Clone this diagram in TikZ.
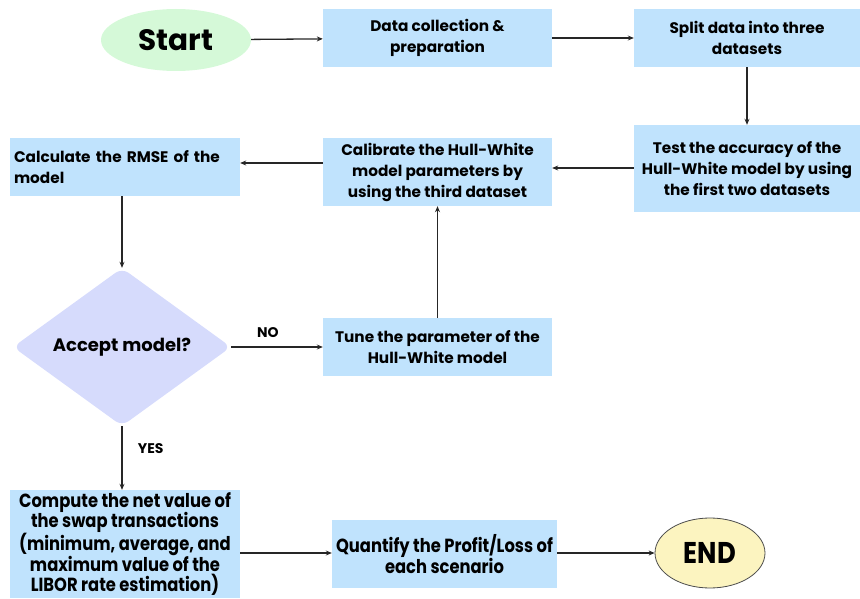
\documentclass[tikz,border=0pt]{standalone}
\usepackage{fontspec}
\setmainfont{Poppins}
\newfontfamily\narrowfont{Poppins}[FakeStretch=0.86]
\usetikzlibrary{shapes.geometric,arrows.meta}
\definecolor{boxblue}{RGB}{192,227,253}
\definecolor{startgreen}{RGB}{213,249,216}
\definecolor{decide}{RGB}{214,219,252}
\definecolor{endyellow}{RGB}{252,244,192}
\tikzset{
  stepbox/.style={fill=boxblue, draw=none, align=center, inner sep=0pt,
    font=\fontsize{15.3}{21}\selectfont\bfseries},
  narrowbox/.style={fill=boxblue, draw=none, align=center, inner sep=0pt,
    font=\narrowfont\fontsize{19}{20.5}\selectfont\bfseries},
  flow/.style={draw=black!85, line width=1.3pt, -{Stealth[length=6pt,width=5pt]}},
  lbl/.style={font=\fontsize{14}{16}\selectfont\bfseries},
}
\begin{document}
\begin{tikzpicture}[x=1pt,y=-1pt]
\useasboundingbox (0,0) rectangle (860,599);
% terminals
\node[ellipse, fill=startgreen, minimum width=150pt, minimum height=62pt,
  font=\fontsize{29.5}{32}\selectfont\bfseries] (start) at (176,40) {Start};
\node[ellipse, fill=endyellow, draw=black!70, line width=0.8pt, minimum width=110pt,
  minimum height=70pt, font=\narrowfont\fontsize{30}{32}\selectfont\bfseries] (end) at (710,553) {END};
% process steps
\node[stepbox, minimum width=229pt, minimum height=58pt] (collect) at (437.5,38) {Data collection \&\\preparation};
\node[stepbox, minimum width=226pt, minimum height=58pt] (split) at (747,38) {Split data into three\\datasets};
\node[stepbox, minimum width=226pt, minimum height=87pt] (test) at (747,168.5) {Test the accuracy of the\\Hull-White model by using\\the first two datasets};
\node[stepbox, minimum width=229pt, minimum height=68pt] (calib) at (437.5,172) {Calibrate the Hull-White\\model parameters by\\using the third dataset};
\node[stepbox, align=left, minimum width=230pt, minimum height=58pt, text width=222pt] (rmse) at (125,167) {Calculate the RMSE of the\\model};
\node[diamond, fill=decide, rounded corners=8pt, minimum width=218pt, minimum height=158pt,
  aspect=1.38, inner sep=0pt, font=\fontsize{18}{20}\selectfont\bfseries] (accept) at (122,347) {Accept model?};
\node[stepbox, minimum width=229pt, minimum height=58pt] (tune) at (437.5,347) {Tune the parameter of the\\Hull-White model};
\node[narrowbox, minimum width=230pt, minimum height=108pt] (compute) at (125,544) {Compute the net value of\\the swap transactions\\(minimum, average, and\\maximum value of the\\LIBOR rate estimation)};
\node[narrowbox, minimum width=225pt, minimum height=68pt] (quant) at (444.5,554) {Quantify the Profit/Loss of\\each scenario};
% connectors
\draw[flow] (start) -- (collect);
\draw[flow] (collect) -- (split);
\draw[flow] (split) -- (test);
\draw[flow] (test.west |- 0,168) -- (calib.east |- 0,168);
\draw[flow] (calib.west |- 0,163) -- (rmse.east |- 0,163);
\draw[flow] (rmse.south -| accept) -- (accept.north);
\draw[flow] (accept.east) -- (tune.west |- accept.east) node[lbl, pos=0.4, above=5pt] (no) {NO};
\draw[flow] (tune) -- (calib);
\draw[flow] (accept.south) -- (accept.south |- compute.north) node[lbl, pos=0.35, right=12pt] (yes) {YES};
\draw[flow] (compute.east |- 0,553) -- (quant.west |- 0,553);
\draw[flow] (quant.east |- 0,553) -- (end.west);
\end{tikzpicture}
\end{document}
